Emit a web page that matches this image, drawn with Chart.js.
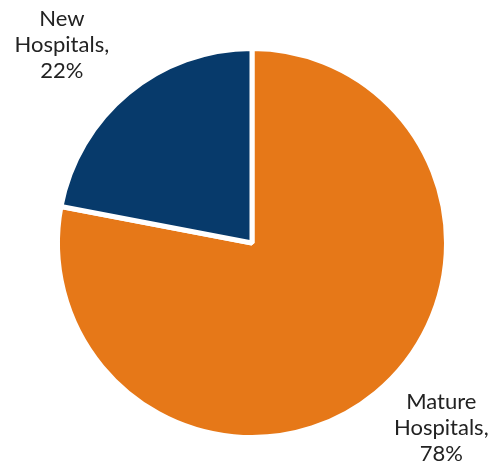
<!DOCTYPE html>
<html>
<head>
<meta charset="utf-8">
<script src="https://cdn.jsdelivr.net/npm/chart.js@4"></script>
<style>
html,body{margin:0;padding:0;background:#fff;}
#wrap{width:501px;height:466px;}
</style>
</head>
<body>
<div id="wrap"><canvas id="c" width="501" height="466"></canvas></div>
<script>
const categories = ["Mature Hospitals", "New Hospitals"];
const shares = [78, 22];
const colors = ["#E67818", "#073A6B"];
const labelLines = [["Mature", "Hospitals,", "78%"], ["New", "Hospitals,", "22%"]];

const labelPlugin = {
  id: 'outerLabels',
  afterDatasetsDraw(chart) {
    const ctx = chart.ctx;
    const meta = chart.getDatasetMeta(0);
    ctx.save();
    ctx.font = '22px Lato, "Noto Sans", sans-serif';
    ctx.fillStyle = '#222222';
    ctx.textAlign = 'center';
    ctx.textBaseline = 'middle';
    const tweaks = [{a: -0.105, f: 1.362}, {a: -0.075, f: 1.41}];
    meta.data.forEach((arc, i) => {
      const mid = (arc.startAngle + arc.endAngle) / 2 + tweaks[i].a;
      const r = arc.outerRadius * tweaks[i].f;
      const cx = arc.x + Math.cos(mid) * r;
      const cy = arc.y + Math.sin(mid) * r;
      const lh = 26;
      labelLines[i].forEach((t, k) => {
        ctx.fillText(t, cx, cy + (k - 1) * lh);
      });
    });
    ctx.restore();
  }
};

new Chart(document.getElementById('c'), {
  type: 'pie',
  data: {
    labels: categories,
    datasets: [{
      data: shares,
      backgroundColor: colors,
      borderColor: '#ffffff',
      borderWidth: 5,
      hoverOffset: 0
    }]
  },
  options: {
    responsive: false,
    animation: false,
    layout: {padding: {top: 46, bottom: 26, left: 3, right: 0}},
    plugins: {legend: {display: false}, tooltip: {enabled: false}}
  },
  plugins: [labelPlugin]
});
</script>
</body>
</html>
